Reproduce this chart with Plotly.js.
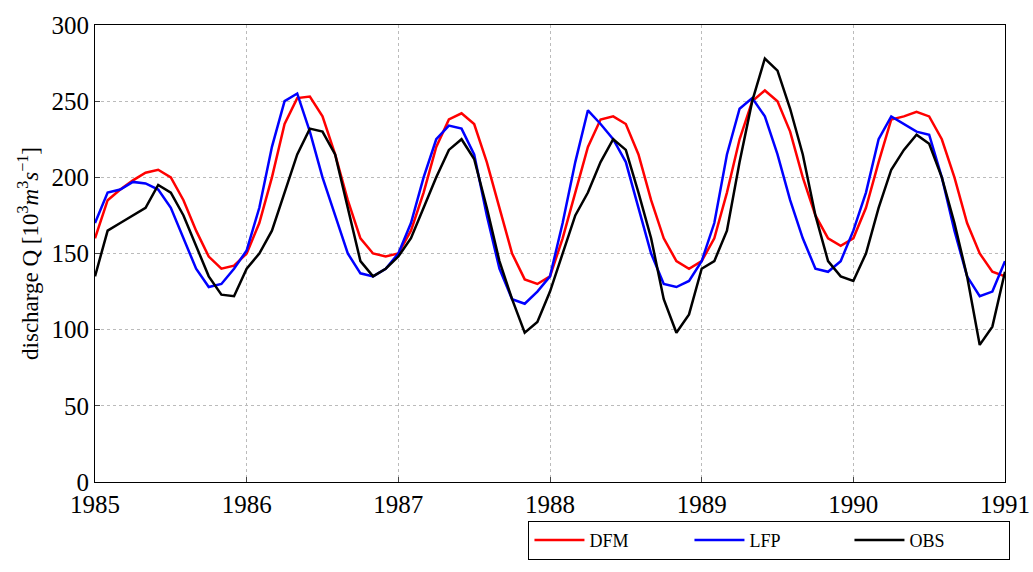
<!DOCTYPE html>
<html>
<head>
<script src="https://cdn.plot.ly/plotly-3.0.1.min.js"></script>
<style>body{margin:0;background:#fff}</style>
</head>
<body>
<div id="plot" style="width:1033px;height:572px"></div>
<script>
// monthly samples, starting Jan 1985
let obs = [135,165,170,175,180,195,190,175,155,135,123,122,
           140,150,165,190,215,232,230,215,180,145,135,140,
           148,160,180,200,218,225,212,180,145,120,98,105,
           125,150,175,190,210,225,218,190,160,120,98,110,
           140,145,165,210,250,278,270,245,215,175,145,135,
           132,150,180,205,218,228,222,200,170,135,90,102,138];
let dfm = [160,185,192,198,203,205,200,185,165,148,140,142,
           150,170,200,235,252,253,240,215,185,160,150,148,
           150,165,190,220,238,242,235,210,180,150,133,130,
           135,160,190,220,238,240,235,215,185,160,145,140,
           145,160,190,225,250,257,250,230,200,175,160,155,
           160,180,210,238,240,243,240,225,200,170,150,138,135];
let lfp = [170,190,192,197,196,192,180,160,140,128,130,140,
           152,180,220,250,255,230,200,175,150,137,135,140,
           150,170,200,225,234,232,215,175,140,120,117,125,
           135,170,210,244,235,225,210,180,150,130,128,132,
           145,170,215,245,252,240,215,185,160,140,138,145,
           165,190,225,240,235,230,228,200,165,135,122,125,145];
let years = obs.map((v, i) => 1985 + i / 12);

let serif = 'Liberation Serif';
let data = [
  {x: years, y: dfm, name: 'DFM', mode: 'lines', line: {color: '#ff0000', width: 2.5}},
  {x: years, y: lfp, name: 'LFP', mode: 'lines', line: {color: '#0000ff', width: 2.5}},
  {x: years, y: obs, name: 'OBS', mode: 'lines', line: {color: '#000000', width: 2.5}}
];
let layout = {
  width: 1033, height: 572,
  margin: {l: 95, r: 28, t: 25, b: 80},
  font: {family: serif, size: 20, color: '#000'},
  showlegend: true,
  legend: {orientation: 'h', x: 1.006, xanchor: 'right', y: -0.085, yanchor: 'top',
           bordercolor: '#000', borderwidth: 1, font: {size: 18, family: serif},
           entrywidth: 95, itemwidth: 50},
  xaxis: {range: [1985, 1991], dtick: 1, tickformat: 'd', showgrid: true,
          gridcolor: '#bbb', griddash: 'dot', showline: true, mirror: true,
          linecolor: '#000', linewidth: 1, ticks: 'inside', zeroline: false,
          tickfont: {size: 25, family: serif}},
  yaxis: {range: [0, 300], dtick: 50, showgrid: true, gridcolor: '#bbb', griddash: 'dot',
          showline: true, mirror: true, linecolor: '#000', linewidth: 1, ticks: 'inside',
          zeroline: false, tickfont: {size: 25, family: serif},
          title: {text: 'discharge Q [10<sup>3</sup><i>m</i><sup>3</sup><i>s</i><sup>−1</sup>]',
                  font: {size: 23, family: serif}, standoff: 6}},
  plot_bgcolor: '#fff', paper_bgcolor: '#fff'
};
Plotly.newPlot('plot', data, layout, {displayModeBar: false});
</script>
</body>
</html>
